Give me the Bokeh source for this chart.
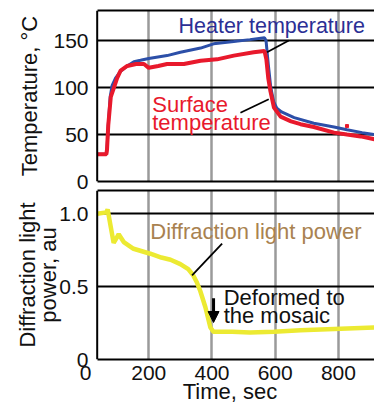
from bokeh.plotting import figure
from bokeh.layouts import column
from bokeh.models import (Range1d, LinearAxis, FixedTicker, Label, Arrow, NormalHead,
                          BoxAnnotation, Span)
from bokeh.embed import file_html
from bokeh.resources import INLINE

FONT = "Liberation Sans"

# ---- data ----
heater_t = [37, 66, 68, 72, 78, 84, 95, 110, 132, 153, 174, 200, 258, 300, 364, 405, 469, 520, 566,
            571, 578, 586, 595, 605, 620, 660, 722, 786, 827, 875, 914]
heater_T = [29, 29, 34, 60, 90, 102, 110, 117, 123, 127.5, 129, 131, 134, 137.5, 142, 146.5, 149, 151, 153,
            150, 125, 100, 85, 78, 74, 68, 62, 58, 55, 52, 50]

surface_t = [37, 66, 68, 72, 80, 90, 100, 111, 132, 160, 185, 200, 230, 258, 311, 364, 416, 469, 532, 566,
             572, 578, 585, 596, 617, 650, 680, 722, 786, 827, 870, 914]
surface_T = [29, 29, 34, 60, 90, 100, 110, 118, 123, 125, 125, 121, 123, 125, 125, 128.6, 130, 134, 137.5, 139,
             130, 110, 96, 78.6, 69, 64, 61, 58, 52, 50, 48, 45]
outlier_t = [827]
outlier_T = [59]

diff_t = [37, 66, 70, 79, 89, 97, 105, 121, 152, 205, 240, 269, 300, 325, 340, 352, 363, 379, 395, 405,
          464, 520, 596, 680, 786, 914]
diff_P = [1.0, 1.01, 1.03, 0.92, 0.80, 0.83, 0.86, 0.806, 0.76, 0.726, 0.70, 0.685, 0.655, 0.62, 0.58, 0.53,
          0.47, 0.36, 0.22, 0.19, 0.19, 0.185, 0.19, 0.20, 0.21, 0.22]

x_ticks = [0, 200, 400, 600, 800]
temp_ticks = [0, 50, 100, 150]
diff_ticks = [0, 0.5, 1.0]
diff_tick_labels = {0: "0", 0.5: "0.5", 1: "1.0"}

X_RANGE = (0, 914)
FRAME_START = 37          # visible frame begins here (time, sec)
TEMP_RANGE = (0, 182)
DIFF_RANGE = (0, 1.16)

BLUE_TXT = "#2b2f95"
BLUE_LINE = "#2c4fa8"
RED = "#e8192c"
TAN = "#a98250"
YELLOW = "#ecea32"
GRAY = "#9a9a9a"
INK = "#111111"


def plain_axis(ax):
    ax.axis_line_width = 2
    ax.axis_line_color = "black"
    ax.major_tick_line_color = None
    ax.minor_tick_line_color = None
    ax.major_tick_out = 0
    ax.major_tick_in = 0
    ax.minor_tick_out = 0
    ax.minor_tick_in = 0


def make_fig(height, y_range, yticks, x_range, top_border, bottom_border):
    p = figure(width=374, height=height, x_range=x_range, y_range=y_range,
               output_backend="svg", toolbar_location=None, min_border_left=85, min_border_right=0,
               min_border_top=top_border, min_border_bottom=bottom_border)
    p.outline_line_color = None
    p.xgrid.ticker = FixedTicker(ticks=[200, 400, 600, 800])
    p.xgrid.grid_line_color = GRAY
    p.xgrid.grid_line_width = 2.5
    p.ygrid.ticker = FixedTicker(ticks=[t for t in yticks if t != 0])
    p.ygrid.grid_line_color = "black"
    p.ygrid.grid_line_width = 1.8
    ya = p.left[0]
    ya.ticker = FixedTicker(ticks=yticks)
    plain_axis(ya)
    ya.axis_line_color = None
    ya.level = "overlay"
    ya.major_label_text_font = FONT
    ya.major_label_text_font_size = "21px"
    ya.major_label_text_color = INK
    ya.major_label_standoff = -3
    ya.axis_label_text_font = FONT
    ya.axis_label_text_font_size = "22px"
    ya.axis_label_text_font_style = "normal"
    ya.axis_label_text_color = INK
    xa = p.below[0]
    plain_axis(xa)
    xa.ticker = FixedTicker(ticks=[])
    xa.bounds = (FRAME_START, X_RANGE[1])
    top = LinearAxis(ticker=FixedTicker(ticks=[]), bounds=(FRAME_START, X_RANGE[1]))
    plain_axis(top)
    p.add_layout(top, "above")
    return p, ya


def finish(p):
    p.add_layout(BoxAnnotation(right=FRAME_START, fill_color="white", fill_alpha=1.0, line_color=None))
    p.add_layout(Span(location=FRAME_START, dimension="height", line_color="black", line_width=2))


# ---- top: temperatures ----
p1, ya1 = make_fig(189, Range1d(*TEMP_RANGE), temp_ticks, Range1d(*X_RANGE), 10, 8)
ya1.axis_label = "Temperature, °C"
ya1.axis_label_standoff = 8

p1.line(heater_t, heater_T, line_color=BLUE_LINE, line_width=3)
p1.line(surface_t, surface_T, line_color=RED, line_width=4)
p1.scatter(outlier_t, outlier_T, marker="square", size=3, color=RED)

p1.line([574, 643], [137.5, 150], line_color="black", line_width=1.8)
p1.line([490, 579.5], [73.2, 87.6], line_color="black", line_width=1.8)

p1.add_layout(Label(x=294, y=165, text="Heater temperature", text_font=FONT, text_font_size="21.5px",
                    text_color=BLUE_TXT, text_baseline="alphabetic"))
p1.add_layout(Label(x=211, y=82.2, text="Surface", text_font=FONT, text_font_size="22px",
                    text_color=RED, text_baseline="alphabetic"))
p1.add_layout(Label(x=211, y=62.9, text="temperature", text_font=FONT, text_font_size="22px",
                    text_color=RED, text_baseline="alphabetic"))
finish(p1)

# ---- bottom: diffraction ----
p2, ya2 = make_fig(217, Range1d(*DIFF_RANGE), diff_ticks, p1.x_range, 1, 0)
ya2.major_label_overrides = diff_tick_labels
ya2.axis_label = "Diffraction light\npower, au"
ya2.axis_label_standoff = -5
ya2.axis_label_text_line_height = 0.85

xb = LinearAxis(ticker=FixedTicker(ticks=x_ticks))
plain_axis(xb)
xb.axis_line_color = None
xb.major_label_text_font = FONT
xb.major_label_text_font_size = "21px"
xb.major_label_text_color = INK
xb.major_label_standoff = 6
xb.axis_label = "Time, sec"
xb.axis_label_standoff = -4
xb.axis_label_text_font = FONT
xb.axis_label_text_font_size = "22px"
xb.axis_label_text_font_style = "normal"
xb.axis_label_text_color = INK
p2.add_layout(xb, "below")

p2.line(diff_t, diff_P, line_color=YELLOW, line_width=4.5)
p2.line([432, 337], [0.795, 0.577], line_color="black", line_width=1.8)
p2.add_layout(Label(x=205, y=0.881, text="Diffraction light power", text_font=FONT, text_font_size="22px",
                    text_color=TAN, text_baseline="alphabetic"))
p2.add_layout(Label(x=437, y=0.424, text="Deformed to", text_font=FONT, text_font_size="22px",
                    text_color=INK, text_baseline="alphabetic"))
p2.add_layout(Label(x=437, y=0.301, text="the mosaic", text_font=FONT, text_font_size="22px",
                    text_color=INK, text_baseline="alphabetic"))
p2.add_layout(Arrow(x_start=405, y_start=0.42, x_end=405, y_end=0.254, line_width=3, line_color="black",
                    end=NormalHead(size=11, fill_color="black", line_color="black")))
finish(p2)

layout = column(p1, p2, spacing=0)
open("out.html", "w").write(file_html(layout, INLINE))
